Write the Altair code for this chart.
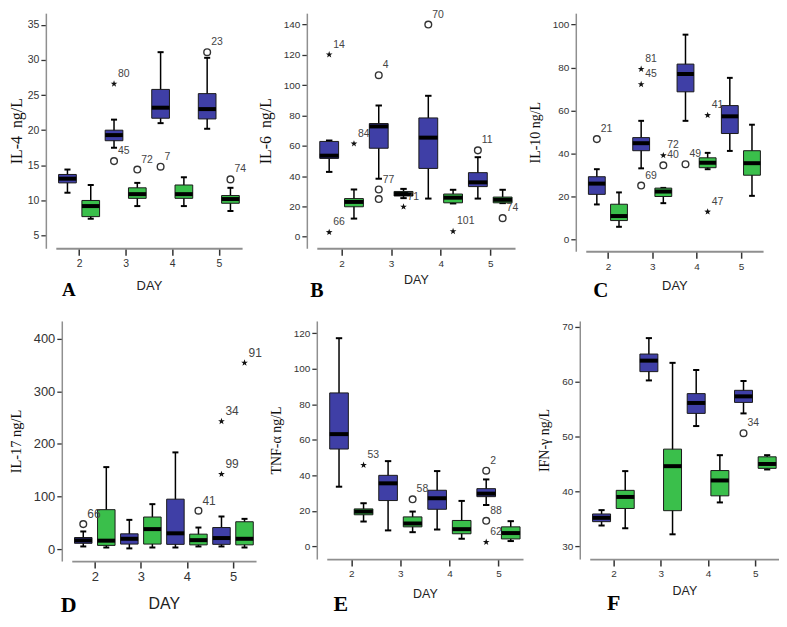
import altair as alt
import pandas as pd

DAYS = [2, 3, 4, 5]
GROUPS = ["blue", "green"]
BLUE = "#3f3fa6"
GREEN = "#3abf4b"
SANS = "Liberation Sans"
SERIF = "Liberation Serif"
STAR = ("M0,-1L0.235,-0.324L0.951,-0.309L0.380,0.124L0.588,0.809L0,0.4"
        "L-0.588,0.809L-0.380,0.124L-0.951,-0.309L-0.235,-0.324Z")

# box order: day2 blue, day2 green, day3 blue, day3 green, day4 blue, day4 green, day5 blue, day5 green
# ---- A: IL-4
A_LO = [11.1, 7.4, 17.5, 9.2, 21.0, 9.2, 20.2, 8.5]
A_Q1 = [12.5, 7.7, 18.5, 10.3, 21.7, 10.3, 21.6, 9.6]
A_MED = [13.1, 9.2, 19.3, 10.9, 23.2, 10.9, 23.0, 10.2]
A_Q3 = [13.7, 10.0, 20.0, 11.8, 25.8, 12.2, 25.2, 10.7]
A_HI = [14.4, 12.2, 21.5, 12.5, 31.1, 13.3, 30.3, 11.8]
A_OUT_DAY = [3, 3, 3, 4, 5, 5]
A_OUT_GRP = ["blue", "blue", "green", "blue", "blue", "green"]
A_OUT_VAL = [26.6, 15.6, 14.4, 14.8, 31.1, 13.0]
A_OUT_KIND = ["star", "circle", "circle", "circle", "circle", "circle"]
A_OUT_LAB = ["80", "45", "72", "7", "23", "74"]

# ---- B: IL-6
B_LO = [42.8, 12.0, 38.3, 25.5, 25.2, 22.0, 25.2, 22.2]
B_Q1 = [51.7, 19.8, 58.4, 26.9, 45.1, 22.4, 33.1, 22.4]
B_MED = [53.5, 23.0, 72.8, 28.2, 65.4, 25.8, 35.9, 24.4]
B_Q3 = [62.9, 25.2, 74.7, 29.9, 78.4, 28.2, 42.3, 26.2]
B_HI = [63.5, 31.2, 86.6, 31.6, 93.0, 31.0, 52.5, 31.0]
B_OUT_DAY = [2, 2, 2, 3, 3, 3, 3, 4, 4, 5, 5]
B_OUT_GRP = ["blue", "blue", "green", "blue", "blue", "blue", "green", "blue", "green", "blue", "green"]
B_OUT_VAL = [120.2, 3.0, 61.4, 106.6, 31.2, 24.9, 19.8, 140.0, 3.6, 57.0, 12.3]
B_OUT_KIND = ["star", "star", "star", "circle", "circle", "circle", "star", "circle", "star", "circle", "circle"]
B_OUT_LAB = ["14", "66", "84", "4", "77", "", "71", "70", "101", "11", "74"]

# ---- C: IL-10
C_LO = [16.3, 5.9, 33.1, 16.9, 55.2, 32.7, 41.2, 20.3]
C_Q1 = [21.0, 8.8, 41.3, 20.0, 68.7, 33.4, 49.3, 29.9]
C_MED = [26.0, 10.9, 44.8, 22.3, 77.0, 35.7, 57.3, 35.5]
C_Q3 = [29.2, 16.4, 47.4, 23.9, 81.6, 38.0, 62.3, 41.3]
C_HI = [32.7, 21.9, 55.2, 24.0, 95.3, 40.3, 75.2, 53.4]
C_OUT_DAY = [2, 3, 3, 3, 3, 3, 4, 4, 4]
C_OUT_GRP = ["blue", "blue", "blue", "blue", "green", "green", "blue", "green", "green"]
C_OUT_VAL = [46.7, 79.3, 72.2, 25.1, 39.1, 34.5, 35.0, 57.8, 12.9]
C_OUT_KIND = ["circle", "star", "star", "circle", "star", "circle", "circle", "star", "star"]
C_OUT_LAB = ["21", "81", "45", "69", "72", "40", "49", "41", "47"]

# ---- D: IL-17
D_LO = [5, 3, 1.3, 3, 3, 5, 5, 3]
D_Q1 = [11, 7, 9.5, 9.5, 9, 8, 9, 8]
D_MED = [16.5, 16, 19.6, 38, 30, 17, 21, 19.6]
D_Q3 = [22, 75, 29, 61, 95, 28.4, 41, 52]
D_HI = [33.5, 156, 55.6, 85.5, 184, 41, 62, 57.5]
D_OUT_DAY = [2, 4, 5, 5, 5]
D_OUT_GRP = ["blue", "green", "blue", "blue", "green"]
D_OUT_VAL = [47.5, 73, 243, 142.5, 354.5]
D_OUT_KIND = ["circle", "circle", "star", "star", "star"]
D_OUT_LAB = ["66", "41", "34", "99", "91"]

# ---- E: TNF-alpha
E_LO = [33.6, 14.0, 9.0, 8.0, 9.5, 4.3, 23.3, 3.0]
E_Q1 = [54.8, 17.8, 25.8, 11.0, 20.9, 7.1, 28.0, 4.2]
E_MED = [63.2, 19.6, 35.5, 12.9, 27.1, 9.7, 29.7, 7.5]
E_Q3 = [86.4, 21.1, 40.0, 16.6, 31.6, 14.6, 32.5, 11.0]
E_HI = [117.2, 24.3, 48.0, 19.6, 42.4, 25.6, 37.7, 14.2]
E_OUT_DAY = [2, 3, 5, 5, 5]
E_OUT_GRP = ["green", "green", "blue", "blue", "blue"]
E_OUT_VAL = [45.8, 26.5, 42.6, 14.4, 2.4]
E_OUT_KIND = ["star", "circle", "circle", "circle", "star"]
E_OUT_LAB = ["53", "58", "2", "88", "62"]

# ---- F: IFN-gamma
F_LO = [33.8, 33.3, 60.2, 32.2, 51.9, 38.0, 54.2, 44.0]
F_Q1 = [34.5, 36.9, 61.8, 36.5, 54.2, 39.2, 56.2, 44.2]
F_MED = [35.2, 39.0, 63.8, 44.6, 56.1, 42.0, 57.3, 45.0]
F_Q3 = [35.9, 40.2, 65.0, 47.7, 57.8, 43.8, 58.4, 46.3]
F_HI = [36.6, 43.7, 67.9, 63.4, 62.1, 46.6, 60.1, 46.6]
F_OUT_DAY = [5]
F_OUT_GRP = ["blue"]
F_OUT_VAL = [50.6]
F_OUT_KIND = ["circle"]
F_OUT_LAB = ["34"]

OFFSET = {"blue": -0.25, "green": 0.25}
HALF_BOX = 0.19
HALF_CAP = 0.065


def make_panel(lo, q1, med, q3, hi, o_day, o_grp, o_val, o_kind, o_lab, cfg):
    rows = []
    i = 0
    for d in DAYS:
        for g in GROUPS:
            p = d + OFFSET[g]
            rows.append(dict(grp=g, pos=p, xl=p - HALF_BOX, xr=p + HALF_BOX,
                             cl=p - HALF_CAP, cr=p + HALF_CAP,
                             lo=lo[i], q1=q1[i], med=med[i], q3=q3[i], hi=hi[i]))
            i += 1
    box = pd.DataFrame(rows)
    out = pd.DataFrame(dict(pos=[d + OFFSET[g] for d, g in zip(o_day, o_grp)],
                            val=o_val, kind=o_kind, lab=o_lab))
    xs = alt.Scale(domain=[1.5, 5.5], nice=False, zero=False)
    ys = alt.Scale(domain=cfg["ydom"], nice=False, zero=False)
    xaxis = alt.Axis(title="DAY", values=DAYS, format="d", grid=False,
                     domainColor="#8f8f8f", domainWidth=1.8, tickColor="#333",
                     tickWidth=1.5, tickSize=7, labelPadding=3, labelFont=SANS,
                     labelFontSize=cfg["lfs"], labelColor="#333", titleFont=SANS,
                     titleFontSize=cfg["xtfs"], titleFontWeight="normal",
                     titleColor="#222", titlePadding=cfg["xtp"])
    yaxis = alt.Axis(title=cfg["ytitle"], values=cfg["yticks"], grid=False, offset=10,
                     domainColor="#8f8f8f", domainWidth=1.5, tickColor="#333",
                     tickWidth=1.3, tickSize=5, labelPadding=2, labelFont=SANS,
                     labelFontSize=cfg["lfs"], labelColor="#333", titleFont=SERIF,
                     titleFontSize=cfg["tfs"], titleFontWeight="normal",
                     titleColor="#111", titlePadding=cfg["ytp"])

    def X(f):
        return alt.X(f"{f}:Q", scale=xs, axis=xaxis)

    def Y(f):
        return alt.Y(f"{f}:Q", scale=ys, axis=yaxis)

    base = alt.Chart(box)
    whisk = base.mark_rule(color="black", strokeWidth=1.5).encode(
        x=X("pos"), y=Y("lo"), y2="hi:Q")
    caplo = base.mark_rule(color="black", strokeWidth=2).encode(
        x=X("cl"), x2="cr:Q", y=Y("lo"))
    caphi = base.mark_rule(color="black", strokeWidth=2).encode(
        x=X("cl"), x2="cr:Q", y=Y("hi"))
    rect = base.mark_rect(stroke="#1a1a1a", strokeWidth=1).encode(
        x=X("xl"), x2="xr:Q", y=Y("q1"), y2="q3:Q",
        color=alt.Color("grp:N", scale=alt.Scale(domain=GROUPS, range=[BLUE, GREEN]),
                        legend=None))
    medr = base.mark_rule(color="black", strokeWidth=4).encode(
        x=X("xl"), x2="xr:Q", y=Y("med"))
    ob = alt.Chart(out)
    circ = ob.transform_filter("datum.kind == 'circle'").mark_point(
        shape="circle", filled=False, color="#333", size=45, strokeWidth=1.4,
        opacity=1).encode(x=X("pos"), y=Y("val"))
    star = ob.transform_filter("datum.kind == 'star'").mark_point(
        shape=STAR, filled=True, color="#111", size=50, opacity=1).encode(
        x=X("pos"), y=Y("val"))
    labs = ob.mark_text(align="left", baseline="middle", dx=4, dy=-10,
                        fontSize=cfg["ofs"], font=SANS, color="#444").encode(
        x=X("pos"), y=Y("val"), text="lab:N")
    letter = alt.Chart(pd.DataFrame({"t": [cfg["letter"]]})).mark_text(
        font=SERIF, fontWeight="bold", fontSize=cfg["lsize"], align="center",
        baseline="middle", color="black").encode(
        text="t:N", x=alt.value(cfg["lx"]), y=alt.value(cfg["height"] + cfg["ly"]))
    return alt.layer(whisk, caplo, caphi, rect, medr, circ, star, labs, letter).properties(
        width=cfg["width"], height=cfg["height"])


def spacer(w):
    # invisible 1-px cell that only shifts the panels of the second row
    return alt.Chart(pd.DataFrame({"v": [0]})).mark_point(opacity=0, size=1).encode(
        x=alt.value(0), y=alt.value(0)).properties(width=w, height=1)


cfgA = dict(width=187, height=236, ydom=[3.2, 36.65], yticks=[5, 10, 15, 20, 25, 30, 35],
            ytitle="IL-4\u00a0 ng/L", tfs=16, lfs=10.5, xtfs=13, ytp=3, xtp=11, ofs=10.5,
            letter="A", lx=13, ly=42, lsize=19)
cfgB = dict(width=199, height=236, ydom=[-7.56, 147.5], yticks=[0, 20, 40, 60, 80, 100, 120, 140],
            ytitle="IL-6\u00a0 ng/L", tfs=16, lfs=10, xtfs=12.5, ytp=10, xtp=5, ofs=10.5,
            letter="B", lx=0, ly=43, lsize=20)
cfgC = dict(width=178, height=239, ydom=[-5.47, 105.3], yticks=[0, 20, 40, 60, 80, 100],
            ytitle="IL-10 ng/L", tfs=14, lfs=10, xtfs=13, ytp=10, xtp=8, ofs=10.5,
            letter="C", lx=15, ly=40, lsize=21)
cfgD = dict(width=185, height=241, ydom=[-22.75, 434.1], yticks=[0, 100, 200, 300, 400],
            ytitle="IL-17 ng/L", tfs=14.5, lfs=13, xtfs=16, ytp=10, xtp=12, ofs=12,
            letter="D", lx=-3, ly=44, lsize=22)
cfgE = dict(width=197, height=239, ydom=[-7.12, 126.9], yticks=[0, 20, 40, 60, 80, 100, 120],
            ytitle="TNF-\u03b1 ng/L", tfs=14, lfs=10, xtfs=12.5, ytp=10, xtp=9, ofs=10.5,
            letter="E", lx=14, ly=45, lsize=22)
cfgF = dict(width=190, height=239, ydom=[27.7, 71.02], yticks=[30, 40, 50, 60, 70],
            ytitle="IFN-\u03b3 ng/L", tfs=14, lfs=10, xtfs=12.5, ytp=10, xtp=6, ofs=10.5,
            letter="F", lx=24, ly=44, lsize=22)

pA = make_panel(A_LO, A_Q1, A_MED, A_Q3, A_HI, A_OUT_DAY, A_OUT_GRP, A_OUT_VAL, A_OUT_KIND, A_OUT_LAB, cfgA)
pB = make_panel(B_LO, B_Q1, B_MED, B_Q3, B_HI, B_OUT_DAY, B_OUT_GRP, B_OUT_VAL, B_OUT_KIND, B_OUT_LAB, cfgB)
pC = make_panel(C_LO, C_Q1, C_MED, C_Q3, C_HI, C_OUT_DAY, C_OUT_GRP, C_OUT_VAL, C_OUT_KIND, C_OUT_LAB, cfgC)
pD = make_panel(D_LO, D_Q1, D_MED, D_Q3, D_HI, D_OUT_DAY, D_OUT_GRP, D_OUT_VAL, D_OUT_KIND, D_OUT_LAB, cfgD)
pE = make_panel(E_LO, E_Q1, E_MED, E_Q3, E_HI, E_OUT_DAY, E_OUT_GRP, E_OUT_VAL, E_OUT_KIND, E_OUT_LAB, cfgE)
pF = make_panel(F_LO, F_Q1, F_MED, F_Q3, F_HI, F_OUT_DAY, F_OUT_GRP, F_OUT_VAL, F_OUT_KIND, F_OUT_LAB, cfgF)

row1 = alt.hconcat(pA, alt.hconcat(pB, pC, spacing=71, bounds="flush"),
                   spacing=75, bounds="flush")
row2 = alt.hconcat(spacer(1),
                   alt.hconcat(pD, alt.hconcat(pE, pF, spacing=67, bounds="flush"),
                               spacing=71, bounds="flush"),
                   spacing=15, bounds="flush")
chart = alt.vconcat(row1, row2, spacing=19, padding=0).configure_view(stroke=None)

chart.save("out.html", embed_options={"renderer": "svg", "actions": False})
